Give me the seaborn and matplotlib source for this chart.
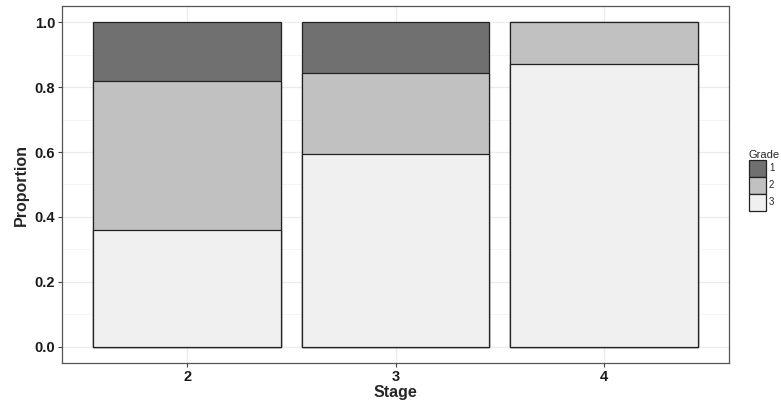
import pandas as pd
import matplotlib.pyplot as plt
import seaborn as sns
from matplotlib.patches import Patch
from matplotlib.ticker import MultipleLocator

# Proportions of each grade within each stage
stages = ["2", "3", "4"]
grade1 = [0.18, 0.155, 0.0]
grade2 = [0.46, 0.25, 0.13]
grade3 = [0.36, 0.595, 0.87]

grades = ["1", "2", "3"]
grade_colors = {"1": "#707070", "2": "#c1c1c1", "3": "#f0f0f0"}

df = pd.DataFrame({"Stage": stages, "g1": grade1, "g2": grade2, "g3": grade3})
# cumulative tops, drawn from the tallest layer down so the stacks overlap
df["top3"] = df["g3"]
df["top2"] = df["g3"] + df["g2"]
df["top1"] = df["g3"] + df["g2"] + df["g1"]

sns.set_theme(style="white")
plt.rcParams["font.family"] = ["Liberation Sans", "DejaVu Sans"]

fig = plt.figure(figsize=(7.81, 4.04), dpi=100)
ax = fig.add_axes([62 / 781, 41 / 404, 667 / 781, 357 / 404])

for g, col in [("1", "top1"), ("2", "top2"), ("3", "top3")]:
    sns.barplot(data=df, x="Stage", y=col, order=stages, color=grade_colors[g],
                width=0.9, edgecolor="#222222", linewidth=0.9, saturation=1,
                ax=ax, zorder=3)

ax.set_xlim(-0.6, 2.6)
ax.set_ylim(-0.05, 1.05)
ax.yaxis.set_minor_locator(MultipleLocator(0.1))
ax.set_yticks([0, 0.2, 0.4, 0.6, 0.8, 1.0])
ax.set_yticklabels(["0.0", "0.2", "0.4", "0.6", "0.8", "1.0"])

ax.grid(True, which="major", color="#ebebeb", linewidth=0.9, zorder=0)
ax.grid(True, which="minor", axis="y", color="#f3f3f3", linewidth=0.6, zorder=0)
ax.set_axisbelow(True)

for s in ax.spines.values():
    s.set_color("#555555")
    s.set_linewidth(0.9)

ax.tick_params(axis="both", which="major", length=3, width=0.8, color="#444444",
               labelsize=10.5, labelcolor="#1a1a1a", pad=2, bottom=True, left=True)
ax.tick_params(axis="y", which="minor", length=0)
for lab in ax.get_xticklabels() + ax.get_yticklabels():
    lab.set_fontweight("bold")

ax.set_xlabel("Stage", fontsize=11.5, fontweight="bold", labelpad=1)
ax.set_ylabel("Proportion", fontsize=11.5, fontweight="bold", labelpad=4)

handles = [Patch(facecolor=grade_colors[g], edgecolor="#222222", linewidth=0.9, label=g)
           for g in grades]
leg = fig.legend(handles=handles, title="Grade", loc="upper left",
                 bbox_to_anchor=(747 / 781, 1 - 148 / 404), frameon=False,
                 fontsize=7, title_fontsize=8, handlelength=1.75, handleheight=2.3,
                 handletextpad=0.3, labelspacing=0.0, borderpad=0.2, borderaxespad=0)
leg._legend_box.align = "left"

fig.savefig("out.png", dpi=100)
